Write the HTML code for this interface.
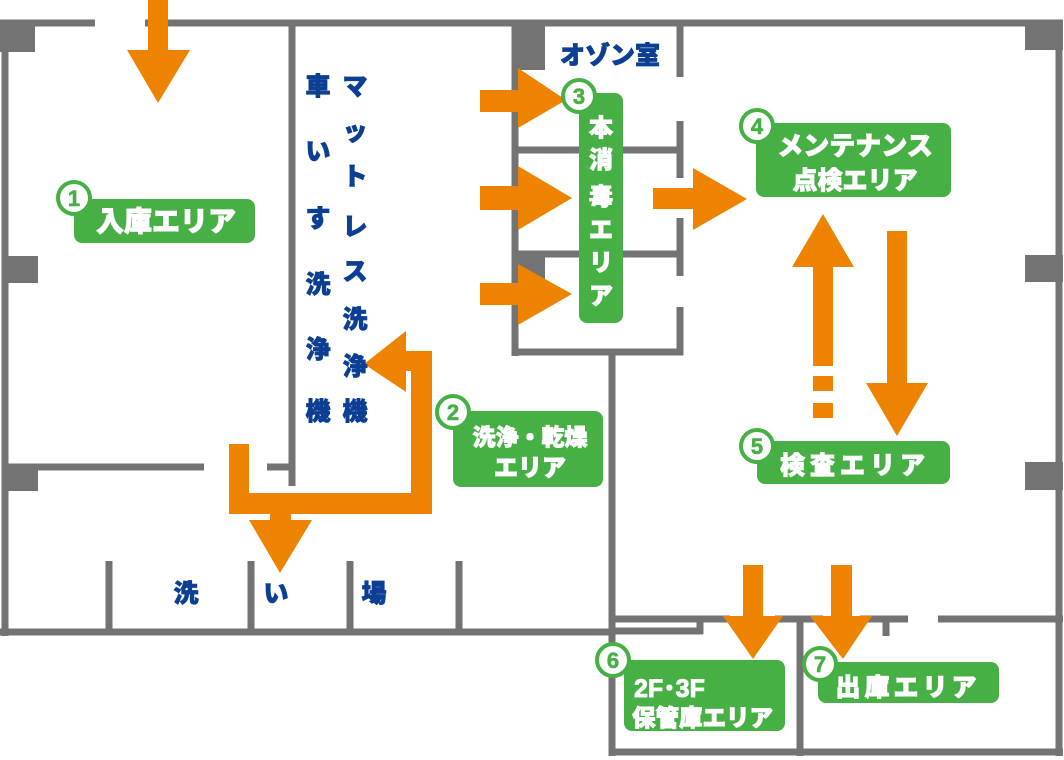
<!DOCTYPE html>
<html><head><meta charset="utf-8"><style>
html,body{margin:0;padding:0;background:#fff;}
svg{display:block;}
text{font-family:"Liberation Sans","Noto Sans CJK JP",sans-serif;font-weight:900;}
.b{fill:#0c3f94;font-size:25px;stroke:#0c3f94;stroke-width:0.8px;}
.w{fill:#fff;font-size:24px;stroke:#fff;stroke-width:0.9px;}
.n{fill:#46b045;font-size:22px;stroke:#46b045;stroke-width:0.6px;}
</style></head><body>
<svg width="1064" height="760" viewBox="0 0 1064 760" xmlns="http://www.w3.org/2000/svg">
<g stroke="#737373" stroke-width="7" fill="none" stroke-linecap="butt">
<line x1="0" y1="23" x2="95" y2="23"/>
<line x1="145" y1="23" x2="1063" y2="23"/>
<line x1="5" y1="20" x2="5" y2="636"/>
<line x1="0" y1="632" x2="612" y2="632"/>
<line x1="5" y1="467" x2="204" y2="467"/>
<line x1="267" y1="467" x2="292" y2="467"/>
<line x1="292" y1="23" x2="292" y2="486"/>
<line x1="109" y1="561" x2="109" y2="632"/>
<line x1="251" y1="561" x2="251" y2="632"/>
<line x1="350" y1="561" x2="350" y2="632"/>
<line x1="459" y1="561" x2="459" y2="632"/>
<line x1="515" y1="23" x2="515" y2="356"/>
<line x1="512" y1="352" x2="683" y2="352"/>
<line x1="515" y1="150" x2="680" y2="150"/>
<line x1="515" y1="254" x2="680" y2="254"/>
<line x1="680" y1="23" x2="680" y2="77"/>
<line x1="680" y1="121" x2="680" y2="178"/>
<line x1="680" y1="218" x2="680" y2="276"/>
<line x1="680" y1="307" x2="680" y2="355"/>
<line x1="612" y1="352" x2="612" y2="756"/>
<line x1="1059" y1="20" x2="1059" y2="756"/>
<line x1="612" y1="752" x2="1063" y2="752"/>
<line x1="612" y1="619" x2="730" y2="619"/>
<line x1="775" y1="619" x2="823" y2="619"/>
<line x1="860" y1="619" x2="908" y2="619"/>
<line x1="938" y1="619" x2="1063" y2="619"/>
<line x1="612" y1="631" x2="703" y2="631"/>
<line x1="700" y1="619" x2="700" y2="634"/>
<line x1="886" y1="619" x2="886" y2="636"/>
<line x1="800" y1="619" x2="800" y2="756"/>
</g>
<g fill="#737373">
<rect x="0" y="20" width="35" height="32"/>
<rect x="5" y="256" width="33" height="27"/>
<rect x="5" y="464" width="33" height="27"/>
<rect x="515" y="20" width="30" height="50"/>
<rect x="515" y="254" width="30" height="36"/>
<rect x="1025" y="20" width="38" height="30"/>
<rect x="1025" y="255" width="38" height="27"/>
<rect x="1025" y="462" width="38" height="28"/>
</g>
<g fill="#ee8300">
<rect x="148" y="0" width="20" height="52"/>
<polygon points="127,50 190,50 158,103"/>
<rect x="480" y="90" width="40" height="22"/>
<polygon points="518,68 518,128 566,100"/>
<rect x="480" y="186" width="40" height="24"/>
<polygon points="518,166 518,230 572,198"/>
<rect x="480" y="283" width="40" height="22"/>
<polygon points="518,264 518,325 572,294"/>
<rect x="653" y="188" width="42" height="21"/>
<polygon points="693,168 693,230 747,199"/>
<rect x="813" y="264" width="20" height="102"/>
<polygon points="792,267 854,267 823,214"/>
<rect x="813" y="376" width="20" height="15"/>
<rect x="813" y="403" width="20" height="15"/>
<rect x="887" y="231" width="20" height="155"/>
<polygon points="866,383 928,383 897,436"/>
<rect x="743" y="565" width="20" height="53"/>
<polygon points="723,616 783,616 753,659"/>
<rect x="831" y="565" width="21" height="53"/>
<polygon points="810,616 872,616 843,659"/>
<polygon points="229,444 249,444 249,493 411,493 411,371 406,371 406,392 364,364 406,331 406,351 432,351 432,514 229,514"/>
<rect x="270" y="512" width="21" height="10"/>
<polygon points="249,520 312,520 280,573"/>
</g>
<text class="b" x="610" y="64" text-anchor="middle">オゾン室</text>
<g class="b" text-anchor="middle" font-size="27">
<text x="318" y="95">車</text><text x="318" y="160">い</text><text x="318" y="227">す</text>
<text x="318" y="293">洗</text><text x="318" y="358">浄</text><text x="318" y="420">機</text>
<text x="355" y="95">マ</text><text x="355" y="140">ッ</text><text x="355" y="185">ト</text>
<text x="355" y="235">レ</text><text x="355" y="280">ス</text><text x="355" y="328">洗</text>
<text x="355" y="375">浄</text><text x="355" y="420">機</text>
<text x="186" y="602">洗</text><text x="276" y="602">い</text><text x="374" y="602">場</text>
</g>
<g fill="#46b045">
<rect x="74" y="199" width="181" height="44" rx="8"/>
<rect x="579" y="93" width="44" height="230" rx="8"/>
<rect x="453" y="411" width="150" height="76" rx="8"/>
<rect x="756" y="123" width="195" height="74" rx="8"/>
<rect x="757" y="441" width="193" height="43" rx="8"/>
<rect x="624" y="660" width="161" height="71" rx="8"/>
<rect x="818" y="662" width="181" height="41" rx="8"/>
</g>
<g fill="#fff" stroke="#46b045" stroke-width="4">
<circle cx="74" cy="198" r="16"/>
<circle cx="579" cy="96" r="16"/>
<circle cx="453" cy="412" r="16"/>
<circle cx="757" cy="126" r="16"/>
<circle cx="757" cy="446" r="16"/>
<circle cx="613" cy="660" r="16"/>
<circle cx="820" cy="664" r="16"/>
</g>
<g class="n" text-anchor="middle">
<text x="74" y="206">1</text><text x="579" y="104">3</text><text x="453" y="420">2</text>
<text x="757" y="134">4</text><text x="757" y="454">5</text><text x="613" y="668">6</text>
<text x="820" y="672">7</text>
</g>
<g class="w" text-anchor="middle">
<text x="166" y="231" font-size="28">入庫エリア</text>
<text x="601" y="136">本</text><text x="601" y="168">消</text><text x="601" y="205">毒</text>
<text x="601" y="238">エ</text><text x="601" y="271">リ</text><text x="601" y="304">ア</text>
<text x="530" y="445" font-size="23">洗浄・乾燥</text>
<text x="530" y="476" font-size="24">エリア</text>
<text x="855" y="155" font-size="26">メンテナンス</text>
<text x="855" y="189" font-size="25">点検エリア</text>
<text x="855" y="474" font-size="25" letter-spacing="5">検査エリア</text>
<text x="908" y="696" font-size="25" letter-spacing="4">出庫エリア</text>
</g>
<g class="w">
<text x="634" y="697" font-size="25">2F･3F</text>
<text x="632" y="726" font-size="23.5">保管庫エリア</text>
</g>
</svg>
</body></html>
